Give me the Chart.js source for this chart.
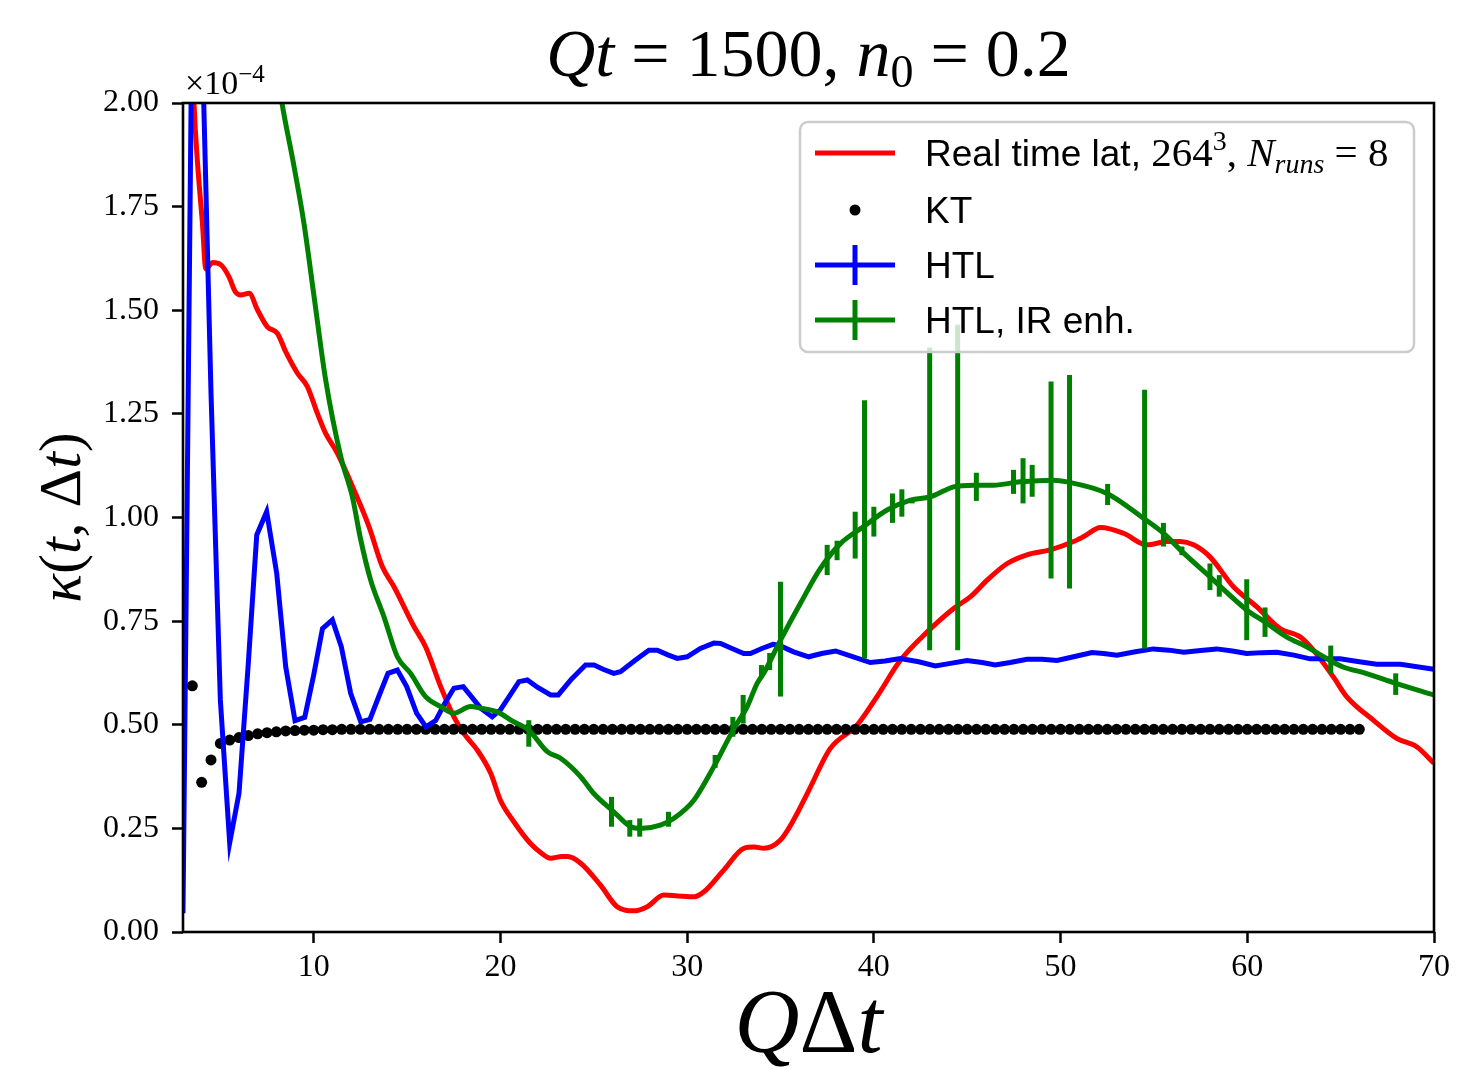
<!DOCTYPE html>
<html>
<head>
<meta charset="utf-8">
<title>kappa(t, Delta t)</title>
<script src="https://cdn.jsdelivr.net/npm/chart.js@4.4.1/dist/chart.umd.min.js"></script>
<style>
	html, body { margin: 0; padding: 0; background: #fff; }
	canvas { display: block; }
</style>
</head>
<body>
<canvas id="myChart" width="1459" height="1070"></canvas>
<script>
// values are in units of 1e-4
const xTicks = [10, 20, 30, 40, 50, 60, 70];
const yTicks = [0, 0.25, 0.5, 0.75, 1.0, 1.25, 1.5, 1.75, 2.0];

// Real time lattice
const realX = [3.2, 3.59, 3.77, 4.04, 4.22, 4.6, 5.02, 5.47, 5.8, 6.09, 6.54, 7.0, 7.52, 8.06, 8.5, 9.13, 9.66, 10.2, 10.64, 11.27,
	12.16, 12.96, 13.68, 14.3, 15.37, 15.99, 16.8, 17.51, 18.04, 18.76, 19.48, 20.0, 20.72, 21.6, 22.2, 22.68, 23.3, 23.6, 24.3, 25.36,
	26.25, 27.15, 27.86, 28.75, 29.5, 30.36, 30.9, 31.97, 33.04, 33.6, 34.1, 35.0, 35.7, 36.5, 37.67, 39.1, 40.17, 41.43, 42.86, 44.29,
	45.18, 46.07, 47.14, 48.2, 49.45, 50.7, 51.24, 52.14, 53.37, 54.62, 55.7, 56.4, 57.12, 58.0, 59.26, 60.5, 61.75, 62.83, 63.54, 64.6,
	65.32, 66.75, 68.0, 69.07, 70.0];
const realY = [2.6, 2.0, 1.86, 1.71, 1.6, 1.615, 1.61, 1.58, 1.545, 1.537, 1.541, 1.5, 1.46, 1.444, 1.4, 1.348, 1.316, 1.251, 1.203, 1.155,
	1.066, 0.978, 0.881, 0.833, 0.737, 0.688, 0.592, 0.519, 0.479, 0.439, 0.383, 0.318, 0.266, 0.214, 0.19, 0.178, 0.182, 0.182, 0.166, 0.113,
	0.061, 0.051, 0.061, 0.089, 0.087, 0.085, 0.097, 0.15, 0.202, 0.205, 0.202, 0.222, 0.27, 0.34, 0.443, 0.499, 0.568, 0.656, 0.724, 0.781,
	0.809, 0.849, 0.889, 0.91, 0.922, 0.942, 0.954, 0.976, 0.962, 0.934, 0.942, 0.942, 0.934, 0.905, 0.833, 0.785, 0.732, 0.712, 0.68, 0.616,
	0.568, 0.511, 0.467, 0.447, 0.407];

// KT
const ktX = [3.5, 4, 4.5, 5, 5.5, 6, 6.5, 7, 7.5, 8,
	8.5, 9, 9.5, 10, 10.5, 11, 11.5, 12, 12.5, 13,
	13.5, 14, 14.5, 15, 15.5, 16, 16.5, 17, 17.5, 18,
	18.5, 19, 19.5, 20, 20.5, 21, 21.5, 22, 22.5, 23,
	23.5, 24, 24.5, 25, 25.5, 26, 26.5, 27, 27.5, 28,
	28.5, 29, 29.5, 30, 30.5, 31, 31.5, 32, 32.5, 33,
	33.5, 34, 34.5, 35, 35.5, 36, 36.5, 37, 37.5, 38,
	38.5, 39, 39.5, 40, 40.5, 41, 41.5, 42, 42.5, 43,
	43.5, 44, 44.5, 45, 45.5, 46, 46.5, 47, 47.5, 48,
	48.5, 49, 49.5, 50, 50.5, 51, 51.5, 52, 52.5, 53,
	53.5, 54, 54.5, 55, 55.5, 56, 56.5, 57, 57.5, 58,
	58.5, 59, 59.5, 60, 60.5, 61, 61.5, 62, 62.5, 63,
	63.5, 64, 64.5, 65, 65.5, 66];
const ktY = [0.594, 0.361, 0.415, 0.455, 0.463, 0.469, 0.474, 0.478, 0.481, 0.483,
	0.485, 0.486, 0.487, 0.487, 0.488, 0.488, 0.489, 0.489, 0.489, 0.489,
	0.489, 0.489, 0.489, 0.489, 0.489, 0.489, 0.489, 0.489, 0.489, 0.489,
	0.489, 0.489, 0.489, 0.489, 0.489, 0.489, 0.489, 0.489, 0.489, 0.489,
	0.489, 0.489, 0.489, 0.489, 0.489, 0.489, 0.489, 0.489, 0.489, 0.489,
	0.489, 0.489, 0.489, 0.489, 0.489, 0.489, 0.489, 0.489, 0.489, 0.489,
	0.489, 0.489, 0.489, 0.489, 0.489, 0.489, 0.489, 0.489, 0.489, 0.489,
	0.489, 0.489, 0.489, 0.489, 0.489, 0.489, 0.489, 0.489, 0.489, 0.489,
	0.489, 0.489, 0.489, 0.489, 0.489, 0.489, 0.489, 0.489, 0.489, 0.489,
	0.489, 0.489, 0.489, 0.489, 0.489, 0.489, 0.489, 0.489, 0.489, 0.489,
	0.489, 0.489, 0.489, 0.489, 0.489, 0.489, 0.489, 0.489, 0.489, 0.489,
	0.489, 0.489, 0.489, 0.489, 0.489, 0.489, 0.489, 0.489, 0.489, 0.489,
	0.489, 0.489, 0.489, 0.489, 0.489, 0.489];

// HTL
const htlX = [3.0, 3.5, 4.0, 4.5, 5.0, 5.5, 6.0, 6.5, 6.95, 7.48, 8.02, 8.5, 9.0, 9.52, 10.0, 10.47, 11.0, 11.48, 11.98, 12.52,
	13.01, 13.5, 13.98, 14.48, 14.98, 15.51, 16.01, 16.53, 17.0, 17.51, 18.01, 18.5, 18.94, 19.56, 20.0, 20.99, 21.44, 22.0, 22.69, 23.1,
	23.8, 24.56, 25.01, 25.5, 26.07, 26.43, 27.2, 27.95, 28.4, 29.0, 29.47, 30.0, 30.71, 31.43, 31.79, 32.4, 33.03, 33.39, 34.0, 34.6,
	34.92, 35.7, 36.51, 37.2, 37.95, 38.9, 39.81, 40.6, 41.42, 42.4, 43.29, 44.1, 44.99, 45.8, 46.5, 47.3, 48.2, 49.0, 49.81, 50.7,
	51.68, 52.3, 53.02, 54.0, 54.97, 55.8, 56.6, 57.5, 58.36, 59.2, 59.97, 60.8, 61.58, 62.5, 63.36, 64.2, 64.97, 66.0, 66.93, 68.2, 70.0];
const htlY = [0.045, 2.3, 2.2, 1.3, 0.56, 0.215, 0.335, 0.65, 0.958, 1.014, 0.865, 0.64, 0.51, 0.518, 0.62, 0.732, 0.753, 0.688, 0.576, 0.507,
	0.513, 0.57, 0.624, 0.632, 0.592, 0.528, 0.495, 0.51, 0.55, 0.588, 0.592, 0.565, 0.54, 0.519, 0.536, 0.604, 0.608, 0.59, 0.572, 0.572,
	0.61, 0.644, 0.644, 0.634, 0.624, 0.628, 0.655, 0.68, 0.68, 0.668, 0.66, 0.664, 0.684, 0.697, 0.696, 0.684, 0.672, 0.672, 0.684, 0.694,
	0.692, 0.676, 0.664, 0.672, 0.678, 0.664, 0.65, 0.654, 0.66, 0.652, 0.642, 0.648, 0.655, 0.65, 0.644, 0.65, 0.658, 0.658, 0.655, 0.664,
	0.674, 0.672, 0.668, 0.676, 0.683, 0.68, 0.675, 0.679, 0.683, 0.678, 0.672, 0.674, 0.675, 0.668, 0.659, 0.659, 0.659, 0.652, 0.646, 0.646, 0.634];

// HTL, IR enhanced
const irX = [7.3, 8.3, 8.95, 9.48, 10.02, 10.64, 11.45, 12.07, 12.52, 13.05, 13.76, 14.48, 15.19, 15.99, 16.8, 17.51, 18.4, 18.94, 19.83, 20.6,
	21.52, 22.51, 23.22, 24.29, 25.0, 26.07, 26.97, 27.5, 28.57, 29.28, 30.36, 31.43, 32.5, 33.21, 33.75, 34.1, 35.0, 36.07, 37.14, 38.21,
	39.45, 40.71, 41.96, 43.02, 44.27, 45.34, 46.41, 47.84, 49.62, 50.34, 52.49, 54.44, 55.51, 56.41, 58.0, 59.97, 61.04, 62.1, 63.18, 64.4,
	65.1, 66.35, 67.96, 69.98];
const irY = [2.3, 2.0, 1.846, 1.709, 1.533, 1.332, 1.147, 1.05, 0.946, 0.849, 0.761, 0.664, 0.624, 0.568, 0.544, 0.528, 0.544, 0.54, 0.531, 0.51,
	0.487, 0.435, 0.419, 0.375, 0.334, 0.29, 0.254, 0.25, 0.258, 0.274, 0.318, 0.399, 0.49, 0.543, 0.6, 0.624, 0.704, 0.793, 0.877, 0.937,
	0.978, 1.018, 1.042, 1.05, 1.074, 1.078, 1.078, 1.086, 1.09, 1.086, 1.058, 0.998, 0.962, 0.922, 0.857, 0.777, 0.745, 0.712, 0.688, 0.656,
	0.64, 0.624, 0.6, 0.572];
const irErrX = [21.52, 25.95, 26.93, 27.46, 29.0, 31.5, 32.45, 33.0, 33.98, 34.42, 35.0, 37.5, 38.03, 39.0, 39.5, 40.0, 41.0, 41.5, 42.05,
	42.99, 44.49, 45.49, 47.48, 47.99, 48.48, 49.49, 50.48, 52.52, 54.5, 55.51, 56.5, 58.0, 58.5, 59.97, 60.95, 64.47, 67.95];
const irErrLo = [0.447, 0.254, 0.23, 0.23, 0.254, 0.396, 0.471, 0.503, 0.613, 0.632, 0.568, 0.861, 0.897, 0.901, 0.66, 0.954, 0.987, 1.002, 1.034,
	0.68, 0.68, 1.04, 1.057, 1.034, 1.05, 0.853, 0.829, 1.03, 0.684, 0.93, 0.909, 0.825, 0.809, 0.704, 0.712, 0.624, 0.572];
const irErrHi = [0.511, 0.326, 0.27, 0.274, 0.29, 0.427, 0.519, 0.572, 0.644, 0.673, 0.845, 0.934, 0.944, 1.014, 1.283, 1.026, 1.058, 1.068, 1.046,
	1.41, 1.465, 1.108, 1.115, 1.143, 1.127, 1.328, 1.344, 1.081, 1.308, 0.987, 0.93, 0.889, 0.861, 0.851, 0.783, 0.691, 0.624];

const RED = 'rgb(255, 0, 0)';
const BLUE = 'rgb(0, 0, 255)';
const GREEN = 'rgb(0, 128, 0)';
const SERIF = '"Liberation Serif", "DejaVu Serif", serif';
const SANS = '"Liberation Sans", "DejaVu Sans", sans-serif';
const LW = 5;

function pairs(xs, ys) {
	return xs.map((x, i) => ({ x, y: ys[i] }));
}

// draws a row of [text, font, dy] pieces
function drawRuns(ctx, runs, x, y, align) {
	let w = 0;
	runs.forEach(r => { ctx.font = r[1]; w += ctx.measureText(r[0]).width; });
	let cx = align === 'center' ? x - w / 2 : x;
	ctx.textAlign = 'left';
	ctx.textBaseline = 'alphabetic';
	runs.forEach(r => {
		ctx.font = r[1];
		ctx.fillText(r[0], cx, y + (r[2] || 0));
		cx += ctx.measureText(r[0]).width;
	});
	return cx;
}

const decorations = {
	id: 'decorations',
	beforeDraw(chart) {
		const ctx = chart.ctx;
		ctx.save();
		ctx.fillStyle = '#fff';
		ctx.fillRect(0, 0, chart.width, chart.height);
		ctx.restore();
	},
	afterDatasetsDraw(chart) {
		const ctx = chart.ctx;
		const xs = chart.scales.x;
		const ys = chart.scales.y;
		const a = chart.chartArea;
		ctx.save();
		ctx.beginPath();
		ctx.rect(a.left, a.top, a.right - a.left, a.bottom - a.top);
		ctx.clip();
		ctx.strokeStyle = GREEN;
		ctx.lineWidth = LW;
		irErrX.forEach((x, i) => {
			const px = xs.getPixelForValue(x);
			ctx.beginPath();
			ctx.moveTo(px, ys.getPixelForValue(irErrLo[i]));
			ctx.lineTo(px, ys.getPixelForValue(irErrHi[i]));
			ctx.stroke();
		});
		ctx.restore();

		ctx.save();
		ctx.strokeStyle = '#000';
		ctx.lineWidth = 2.6;
		ctx.strokeRect(a.left, a.top, a.right - a.left, a.bottom - a.top);
		ctx.restore();
	},
	afterDraw(chart) {
		const ctx = chart.ctx;
		const a = chart.chartArea;
		const cx = (a.left + a.right) / 2;
		ctx.save();
		ctx.fillStyle = '#000';

		// title
		const T = '68px ' + SERIF;
		const TI = 'italic 68px ' + SERIF;
		drawRuns(ctx, [['Q', TI], ['t', TI], [' = 1500, ', T], ['n', TI], ['0', '46px ' + SERIF, 11], [' = 0.2', T]], cx, 76, 'center');

		// offset text
		drawRuns(ctx, [['\u00d710', '34px ' + SERIF], ['\u22124', '25px ' + SERIF, -12]], a.left + 2, 94, 'left');

		// x label
		const X = '90px ' + SERIF;
		const XI = 'italic 90px ' + SERIF;
		drawRuns(ctx, [['Q', XI], ['\u0394', X], ['t', XI]], cx, 1052, 'center');

		// y label
		ctx.save();
		ctx.translate(80, (a.top + a.bottom) / 2);
		ctx.rotate(-Math.PI / 2);
		const Y = '60px ' + SERIF;
		const YI = 'italic 60px ' + SERIF;
		drawRuns(ctx, [['\u03ba', YI], ['(', Y], ['t', YI], [', ', Y], ['\u0394', Y], ['t', YI], [')', Y]], 0, 0, 'center');
		ctx.restore();

		// legend
		const lx = 800, ly = 122, lw = 614, lh = 230;
		ctx.beginPath();
		ctx.roundRect(lx, ly, lw, lh, 8);
		ctx.fillStyle = 'rgba(255, 255, 255, 0.8)';
		ctx.fill();
		ctx.strokeStyle = 'rgb(204, 204, 204)';
		ctx.lineWidth = 2.5;
		ctx.stroke();

		const rows = [153, 210, 265, 320];
		const h0 = 815, h1 = 895, hm = 855, tx = 925;
		ctx.lineWidth = LW;
		ctx.strokeStyle = RED;
		ctx.beginPath(); ctx.moveTo(h0, rows[0]); ctx.lineTo(h1, rows[0]); ctx.stroke();
		ctx.fillStyle = '#000';
		ctx.beginPath(); ctx.arc(hm, rows[1], 5.5, 0, Math.PI * 2); ctx.fill();
		[[BLUE, rows[2]], [GREEN, rows[3]]].forEach(([c, ry]) => {
			ctx.strokeStyle = c;
			ctx.beginPath(); ctx.moveTo(h0, ry); ctx.lineTo(h1, ry); ctx.stroke();
			ctx.beginPath(); ctx.moveTo(hm, ry - 20); ctx.lineTo(hm, ry + 20); ctx.stroke();
		});

		const L = '37px ' + SANS;
		const M = '41px ' + SERIF;
		const MI = 'italic 41px ' + SERIF;
		const MS = '28px ' + SERIF;
		const MSI = 'italic 28px ' + SERIF;
		ctx.fillStyle = '#000';
		drawRuns(ctx, [['Real time lat, ', L], ['264', M], ['3', MS, -16], [', ', M], ['N', MI], ['runs', MSI, 7], [' = 8', M]], tx, rows[0] + 13, 'left');
		drawRuns(ctx, [['KT', L]], tx, rows[1] + 13, 'left');
		drawRuns(ctx, [['HTL', L]], tx, rows[2] + 13, 'left');
		drawRuns(ctx, [['HTL, IR enh.', L]], tx, rows[3] + 13, 'left');
		ctx.restore();
	}
};

const data = {
	datasets: [{
		label: 'Real time lat',
		data: pairs(realX, realY),
		borderColor: RED,
		borderWidth: LW,
		pointRadius: 0,
		cubicInterpolationMode: 'monotone',
		order: 4,
	}, {
		label: 'KT',
		data: pairs(ktX, ktY),
		showLine: false,
		pointRadius: 5.5,
		pointBorderWidth: 0,
		pointBackgroundColor: '#000',
		borderColor: '#000',
		order: 3,
	}, {
		label: 'HTL',
		data: pairs(htlX, htlY),
		borderColor: BLUE,
		borderWidth: LW,
		pointRadius: 0,
		tension: 0,
		order: 2,
	}, {
		label: 'HTL, IR enh.',
		data: pairs(irX, irY),
		borderColor: GREEN,
		borderWidth: LW,
		pointRadius: 0,
		cubicInterpolationMode: 'monotone',
		order: 1,
	}],
};

const tickFont = { family: SERIF, size: 32 };

const config = {
	type: 'line',
	data,
	options: {
		responsive: false,
		animation: false,
		devicePixelRatio: 1,
		layout: { padding: { left: 0, right: 25, top: 103, bottom: 0 } },
		plugins: {
			legend: { display: false },
			tooltip: { enabled: false },
		},
		scales: {
			x: {
				type: 'linear',
				min: 3,
				max: 70,
				afterBuildTicks: s => { s.ticks = xTicks.map(v => ({ value: v })); },
				afterFit: s => { s.height = 138; },
				ticks: { font: tickFont, color: '#000', padding: 5, maxRotation: 0, callback: v => String(v) },
				grid: { drawOnChartArea: false, tickLength: 11, tickWidth: 2.5, tickColor: '#000' },
				border: { display: false },
			},
			y: {
				type: 'linear',
				min: 0,
				max: 2,
				afterBuildTicks: s => { s.ticks = yTicks.map(v => ({ value: v })); },
				afterFit: s => { s.width = 183; },
				ticks: { font: tickFont, color: '#000', padding: 13, callback: v => v.toFixed(2) },
				grid: { drawOnChartArea: false, tickLength: 11, tickWidth: 2.5, tickColor: '#000' },
				border: { display: false },
			},
		},
	},
	plugins: [decorations],
};

new Chart(document.getElementById('myChart'), config);
</script>
</body>
</html>
